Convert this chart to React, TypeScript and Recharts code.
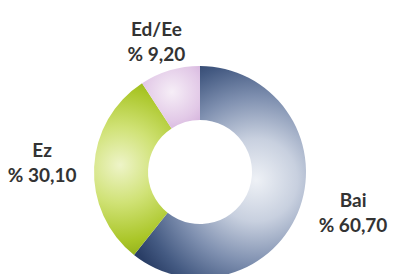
import { PieChart, Pie, Cell } from 'recharts';

const categories = ['Bai', 'Ez', 'Ed/Ee'];
const shares = [60.7, 30.1, 9.2];

const data = categories.map((name, i) => ({ name, value: shares[i] }));

const RADIAN = Math.PI / 180;

const renderLabel = (props: any) => {
  const { cx, cy, midAngle, name, value } = props;
  // labels sit wider than tall, like the original
  const x = cx + 2 + 160 * Math.cos(-midAngle * RADIAN);
  const y = cy - 4 + 133 * Math.sin(-midAngle * RADIAN);
  return (
    <text
      x={x}
      y={y}
      textAnchor="middle"
      fill="#333333"
      fontFamily="Lato, 'Open Sans', sans-serif"
      fontWeight={700}
      fontSize={19}
    >
      <tspan x={x} dy={-5}>{name}</tspan>
      <tspan x={x} dy={25}>{`% ${value.toFixed(2).replace('.', ',')}`}</tspan>
    </text>
  );
};

export default function App() {
  return (
    <div style={{ width: 394, height: 274, background: '#fff' }}>
      <style>{'body{margin:0}'}</style>
      <PieChart width={394} height={274} margin={{ top: 0, right: 0, bottom: 0, left: 0 }}>
        <defs>
          <radialGradient id="grad-bai" gradientUnits="userSpaceOnUse" cx={256} cy={180} r={138}>
            <stop offset="0" stopColor="#eef1f6" />
            <stop offset="0.3" stopColor="#c8d0df" />
            <stop offset="0.6" stopColor="#7f90b0" />
            <stop offset="0.85" stopColor="#445a82" />
            <stop offset="1" stopColor="#2a3e66" />
          </radialGradient>
          <radialGradient id="grad-ez" gradientUnits="userSpaceOnUse" cx={120} cy={165} r={95}>
            <stop offset="0" stopColor="#eef4c8" />
            <stop offset="0.4" stopColor="#d0e276" />
            <stop offset="0.8" stopColor="#aac628" />
            <stop offset="1" stopColor="#90ae1a" />
          </radialGradient>
          <radialGradient id="grad-ed" gradientUnits="userSpaceOnUse" cx={172} cy={92} r={48}>
            <stop offset="0" stopColor="#f6eef7" />
            <stop offset="0.6" stopColor="#e2c9e7" />
            <stop offset="1" stopColor="#cfa9d8" />
          </radialGradient>
        </defs>
        <Pie
          data={data}
          dataKey="value"
          nameKey="name"
          cx={200}
          cy={172}
          innerRadius={52}
          outerRadius={106}
          startAngle={90}
          endAngle={-270}
          stroke="none"
          label={renderLabel}
          labelLine={false}
          isAnimationActive={false}
        >
          <Cell fill="url(#grad-bai)" />
          <Cell fill="url(#grad-ez)" />
          <Cell fill="url(#grad-ed)" />
        </Pie>
      </PieChart>
    </div>
  );
}
